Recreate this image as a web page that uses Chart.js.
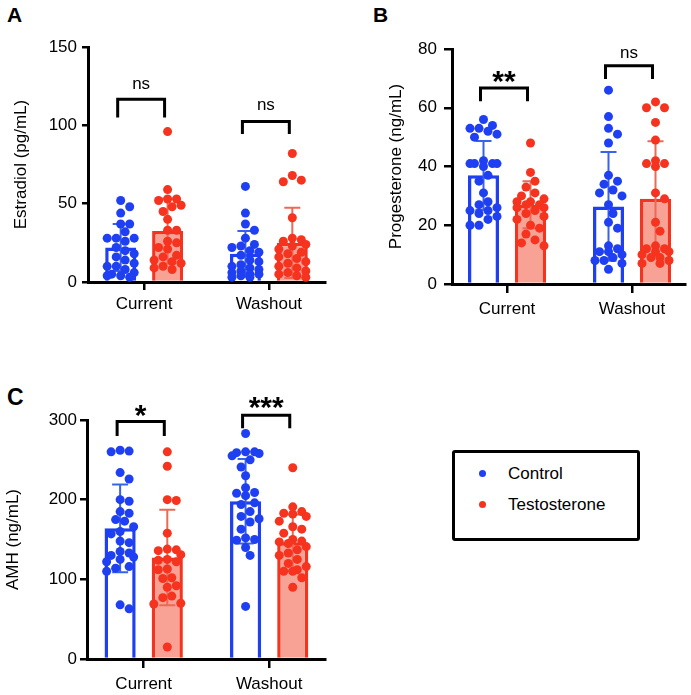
<!DOCTYPE html>
<html>
<head>
<meta charset="utf-8">
<script src="https://cdn.jsdelivr.net/npm/chart.js@4"></script>
<style>
  html, body { margin: 0; padding: 0; background: #fff; }
  body { width: 691px; height: 695px; position: relative; overflow: hidden;
         font-family: 'Liberation Sans', Arial, Helvetica, sans-serif; color: #000; }
  canvas { position: absolute; }
  .letter { position: absolute; font-weight: bold; }
  #legend { position: absolute; left: 452px; top: 450px; width: 188px; height: 91px;
            box-sizing: border-box; border: 3px solid #000; border-radius: 3px; }
  #legend .dot { position: absolute; left: 24px; width: 7px; height: 7px; border-radius: 50%; }
  #legend .txt { position: absolute; left: 53px; font-size: 17px; line-height: 20px; }
</style>
</head>
<body>
<div class="letter" style="left:7px;top:4px;font-size:21px;line-height:21px">A</div>
<div class="letter" style="left:373px;top:4px;font-size:21px;line-height:21px">B</div>
<div class="letter" style="left:7px;top:386px;font-size:23px;line-height:23px">C</div>

<canvas id="estradiol" width="345" height="330" style="left:0;top:0"></canvas>
<canvas id="progesterone" width="346" height="330" style="left:345px;top:0"></canvas>
<canvas id="amh" width="345" height="365" style="left:0;top:330px"></canvas>

<div id="legend">
  <div class="dot" style="top:17px;background:#1e3ff2"></div>
  <div class="txt" style="top:11px">Control</div>
  <div class="dot" style="top:48px;background:#f5331f"></div>
  <div class="txt" style="top:42px">Testosterone</div>
</div>

<script>
const categories = ['Current', 'Washout'];

// A - Estradiol (pg/mL)
const e2ControlMean = [22, 18];
const e2ControlSd = [15, 14.5];
const e2TestoMean = [32.5, 25];
const e2TestoSd = [20.7, 22.4];
const e2ControlCurrent = [52, 48, 44, 37, 37, 32, 28, 28, 28, 26, 22, 20, 18, 16, 14, 12, 10, 10, 8, 6, 5, 4, 4, 3];
const e2TestoCurrent = [96, 59, 53, 53, 52, 49, 48, 45, 40, 33, 33, 26, 25, 22, 21, 17, 16, 14, 13, 12, 10, 9, 8];
const e2ControlWashout = [61, 44, 37, 33, 28, 24, 23, 22, 20, 19, 17, 14, 13, 11, 10, 9, 8, 7, 6, 5, 5, 4, 3, 3];
const e2TestoWashout = [82, 68, 65, 64, 41, 28, 27, 26, 24, 23, 21, 19, 18, 16, 15, 13, 12, 10, 9, 7, 6, 5, 4, 3];
const e2Sig = ['ns', 'ns'];
const e2SigY = [126, 112.4];
const e2BracketTop = [116.7, 102.4];
const e2BracketLeg = [105, 94.5];

// B - Progesterone (ng/mL)
const p4ControlMean = [37, 26.4];
const p4ControlSd = [11.7, 18.5];
const p4TestoMean = [27, 29];
const p4TestoSd = [8, 19.6];
const p4ControlCurrent = [56, 54, 53, 53, 52, 51, 50, 42, 41, 41, 41, 41, 40, 37, 35, 31, 28, 27, 26, 25, 25, 24, 23, 22, 20, 20];
const p4TestoCurrent = [48, 38, 35, 33, 31, 30, 29, 28, 28, 27, 27, 26, 26, 25, 24, 23, 22, 20, 19, 17, 15, 14, 13];
const p4ControlWashout = [66, 57, 53, 51, 48, 37, 35, 34, 32, 31, 30, 27, 24, 21, 19, 13, 12, 11, 11, 10, 9, 8, 8, 7, 5];
const p4TestoWashout = [62, 60, 60, 55, 49, 42, 41, 41, 40, 31, 29, 21, 18, 13, 12, 12, 11, 11, 10, 9, 9, 8, 7, 7];
const p4Sig = ['**', 'ns'];
const p4SigY = [71.6, 78.6];
const p4BracketTop = [66.7, 74.3];
const p4BracketLeg = [62.2, 69.8];

// C - AMH (ng/mL)
const amhControlMean = [164, 198];
const amhControlSd = [55, 53];
const amhTestoMean = [127.5, 146.5];
const amhTestoSd = [60, 35];
const amhControlCurrent = [262, 261, 260, 234, 226, 200, 198, 185, 183, 175, 173, 166, 160, 157, 148, 146, 135, 133, 130, 128, 125, 122, 116, 114, 110, 68, 63];
const amhTestoCurrent = [260, 242, 200, 199, 158, 138, 137, 136, 131, 125, 124, 122, 113, 112, 102, 101, 92, 90, 79, 77, 70, 69, 15];
const amhControlWashout = [283, 260, 260, 259, 258, 255, 250, 241, 230, 215, 209, 208, 205, 196, 194, 185, 179, 176, 172, 163, 152, 150, 149, 140, 130, 66];
const amhTestoWashout = [240, 191, 185, 183, 182, 179, 173, 166, 163, 158, 150, 148, 147, 145, 141, 137, 133, 130, 125, 120, 116, 112, 110, 110, 102, 90];
const amhSig = ['*', '***'];
const amhSigY = [315, 325];
const amhBracketTop = [298, 306];
const amhBracketLeg = [280, 289.6];

const FONT = "'Liberation Sans', Arial, Helvetica, sans-serif";
const BLUE = '#1e3ff2';
const BLUE_ERR = '#3a62e6';
const RED = '#f5331f';
const RED_FILL = '#f8a195';
const RED_ERR = '#ec6a55';
const CAT_PCT = 0.752;
const BAR_PCT = 0.66;
const DOT_R = 4.5;

// simple beeswarm: pixel offsets so dots don't pile on top of each other
function swarm(vals, pxY, half) {
  const placed = [];
  const step = DOT_R;
  return vals.map(v => {
    const y = v * pxY;
    let best = 0, bestCost = Infinity;
    for (let k = 0; k <= 8; k++) {
      const m = Math.ceil(k / 2);
      const dx = (k % 2 ? 1 : -1) * m * step;
      if (Math.abs(dx) > half) break;
      let cost = 0;
      placed.forEach(p => {
        const d = Math.hypot(p[0] - dx, p[1] - y);
        if (d < DOT_R * 2) cost += DOT_R * 2 - d;
      });
      if (cost < bestCost - 0.01) { bestCost = cost; best = dx; }
      if (cost === 0) break;
    }
    placed.push([best, y]);
    return best;
  });
}

function makePanel(id, cfg) {
  const pxX = cfg.plotW / (cfg.xMax - cfg.xMin);
  const pxY = cfg.plotH / cfg.yMax;
  const groupOff = CAT_PCT / 4;

  const bar = (label, means, sd, fill, border, err) => ({
    type: 'bar', label, order: 2,
    data: categories.map((c, i) => ({ x: i, y: means[i] })),
    sd, errColor: err,
    backgroundColor: fill, borderColor: border, borderWidth: 3.5,
    categoryPercentage: CAT_PCT, barPercentage: BAR_PCT
  });
  const dots = (vals, i, sign, color) => {
    const jit = swarm(vals, pxY, 15);
    return {
      type: 'scatter', order: 1, clip: false,
      data: vals.map((v, k) => ({ x: i + sign * groupOff + jit[k] / pxX, y: v })),
      pointRadius: DOT_R, pointBackgroundColor: color, pointBorderWidth: 0, pointHoverRadius: DOT_R
    };
  };

  const extras = {
    id: 'extras',
    afterDatasetDraw(chart, args) {
      const ds = chart.data.datasets[args.index];
      if (!ds.sd) return;
      const y = chart.scales.y, ctx = chart.ctx;
      ctx.save();
      ctx.strokeStyle = ds.errColor;
      ctx.lineWidth = 2;
      args.meta.data.forEach((b, i) => {
        const m = ds.data[i].y, s = ds.sd[i];
        const top = y.getPixelForValue(m + s);
        const bot = y.getPixelForValue(Math.max(0, m - s));
        ctx.beginPath();
        ctx.moveTo(b.x, top); ctx.lineTo(b.x, bot);
        ctx.moveTo(b.x - 8, top); ctx.lineTo(b.x + 8, top);
        ctx.moveTo(b.x - 8, bot); ctx.lineTo(b.x + 8, bot);
        ctx.stroke();
      });
      ctx.restore();
    },
    afterDraw(chart) {
      const y = chart.scales.y, ctx = chart.ctx;
      const b0 = chart.getDatasetMeta(0).data, b1 = chart.getDatasetMeta(1).data;
      ctx.save();
      ctx.strokeStyle = '#000';
      ctx.lineWidth = 3;
      ctx.lineJoin = 'miter';
      ctx.fillStyle = '#000';
      ctx.textAlign = 'center';
      ctx.textBaseline = 'alphabetic';
      categories.forEach((c, i) => {
        const xl = b0[i].x - 3, xr = b1[i].x - 3;
        const yt = y.getPixelForValue(cfg.bracketTop[i]);
        const yl = y.getPixelForValue(cfg.bracketLeg[i]);
        ctx.beginPath();
        ctx.moveTo(xl, yl); ctx.lineTo(xl, yt); ctx.lineTo(xr, yt); ctx.lineTo(xr, yl);
        ctx.stroke();
        const t = cfg.sig[i];
        const yc = y.getPixelForValue(cfg.sigY[i]);
        if (t === 'ns') {
          ctx.font = '17px ' + FONT;
          ctx.fillText(t, (xl + xr) / 2, yc + 4.5);
        } else {
          ctx.font = 'bold 30px ' + FONT;
          ctx.fillText(t, (xl + xr) / 2, yc + 17);
        }
      });
      ctx.restore();
    }
  };

  const tickFont = { family: FONT, size: 17 };
  return new Chart(document.getElementById(id), {
    type: 'bar',
    data: {
      datasets: [
        bar('Control', cfg.ctrlMean, cfg.ctrlSd, '#ffffff', BLUE, BLUE_ERR),
        bar('Testosterone', cfg.testoMean, cfg.testoSd, RED_FILL, RED, RED_ERR),
        dots(cfg.ctrlPts[0], 0, -1, BLUE),
        dots(cfg.testoPts[0], 0, 1, RED),
        dots(cfg.ctrlPts[1], 1, -1, BLUE),
        dots(cfg.testoPts[1], 1, 1, RED)
      ]
    },
    options: {
      responsive: false,
      animation: false,
      devicePixelRatio: 1,
      events: [],
      layout: { padding: { left: 0, top: cfg.padTop, right: cfg.padRight, bottom: 0 } },
      plugins: { legend: { display: false }, tooltip: { enabled: false } },
      scales: {
        x: {
          type: 'linear', min: cfg.xMin, max: cfg.xMax, offset: false,
          afterBuildTicks: s => { s.ticks = categories.map((c, i) => ({ value: i })); },
          afterFit: s => { s.height = cfg.xAxisH; },
          ticks: { callback: v => categories[v], font: tickFont, color: '#000',
                   padding: cfg.xPad, maxRotation: 0, autoSkip: false },
          grid: { drawOnChartArea: false, drawTicks: true, tickLength: cfg.xTick,
                  lineWidth: 2.5, color: '#000', offset: false },
          border: { display: true, width: 3, color: '#000' }
        },
        y: {
          min: 0, max: cfg.yMax,
          afterFit: s => { s.width = cfg.yAxisW; },
          ticks: { stepSize: cfg.yStep, font: tickFont, color: '#000', padding: cfg.yPad },
          grid: { drawOnChartArea: false, drawTicks: true, tickLength: cfg.yTick,
                  lineWidth: 2.5, color: '#000' },
          border: { display: true, width: 3, color: '#000' },
          title: { display: true, text: cfg.yTitle, color: '#000', font: tickFont,
                   padding: { top: cfg.titlePad, bottom: 0 } }
        }
      }
    },
    plugins: [extras]
  });
}

makePanel('estradiol', {
  yTitle: 'Estradiol (pg/mL)', yMax: 150, yStep: 50,
  ctrlMean: e2ControlMean, ctrlSd: e2ControlSd, testoMean: e2TestoMean, testoSd: e2TestoSd,
  ctrlPts: [e2ControlCurrent, e2ControlWashout], testoPts: [e2TestoCurrent, e2TestoWashout],
  sig: e2Sig, sigY: e2SigY, bracketTop: e2BracketTop, bracketLeg: e2BracketLeg,
  padTop: 47, padRight: 20, yAxisW: 88, xAxisH: 48, plotW: 237, plotH: 235,
  xMin: -0.45, xMax: 1.45, xTick: 8, xPad: 4, yTick: 6, yPad: 5, titlePad: 10.8
});

makePanel('progesterone', {
  yTitle: 'Progesterone (ng/mL)', yMax: 80, yStep: 20,
  ctrlMean: p4ControlMean, ctrlSd: p4ControlSd, testoMean: p4TestoMean, testoSd: p4TestoSd,
  ctrlPts: [p4ControlCurrent, p4ControlWashout], testoPts: [p4TestoCurrent, p4TestoWashout],
  sig: p4Sig, sigY: p4SigY, bracketTop: p4BracketTop, bracketLeg: p4BracketLeg,
  padTop: 49, padRight: 6, yAxisW: 107, xAxisH: 46, plotW: 233, plotH: 235,
  xMin: -0.44, xMax: 1.424, xTick: 9, xPad: 6, yTick: 8, yPad: 7, titlePad: 40.8
});

makePanel('amh', {
  yTitle: 'AMH (ng/mL)', yMax: 300, yStep: 100,
  ctrlMean: amhControlMean, ctrlSd: amhControlSd, testoMean: amhTestoMean, testoSd: amhTestoSd,
  ctrlPts: [amhControlCurrent, amhControlWashout], testoPts: [amhTestoCurrent, amhTestoWashout],
  sig: amhSig, sigY: amhSigY, bracketTop: amhBracketTop, bracketLeg: amhBracketLeg,
  padTop: 90, padRight: 20, yAxisW: 87, xAxisH: 36, plotW: 238, plotH: 239,
  xMin: -0.452, xMax: 1.445, xTick: 9, xPad: 6, yTick: 7, yPad: 3, titlePad: 3.5
});
</script>
</body>
</html>
